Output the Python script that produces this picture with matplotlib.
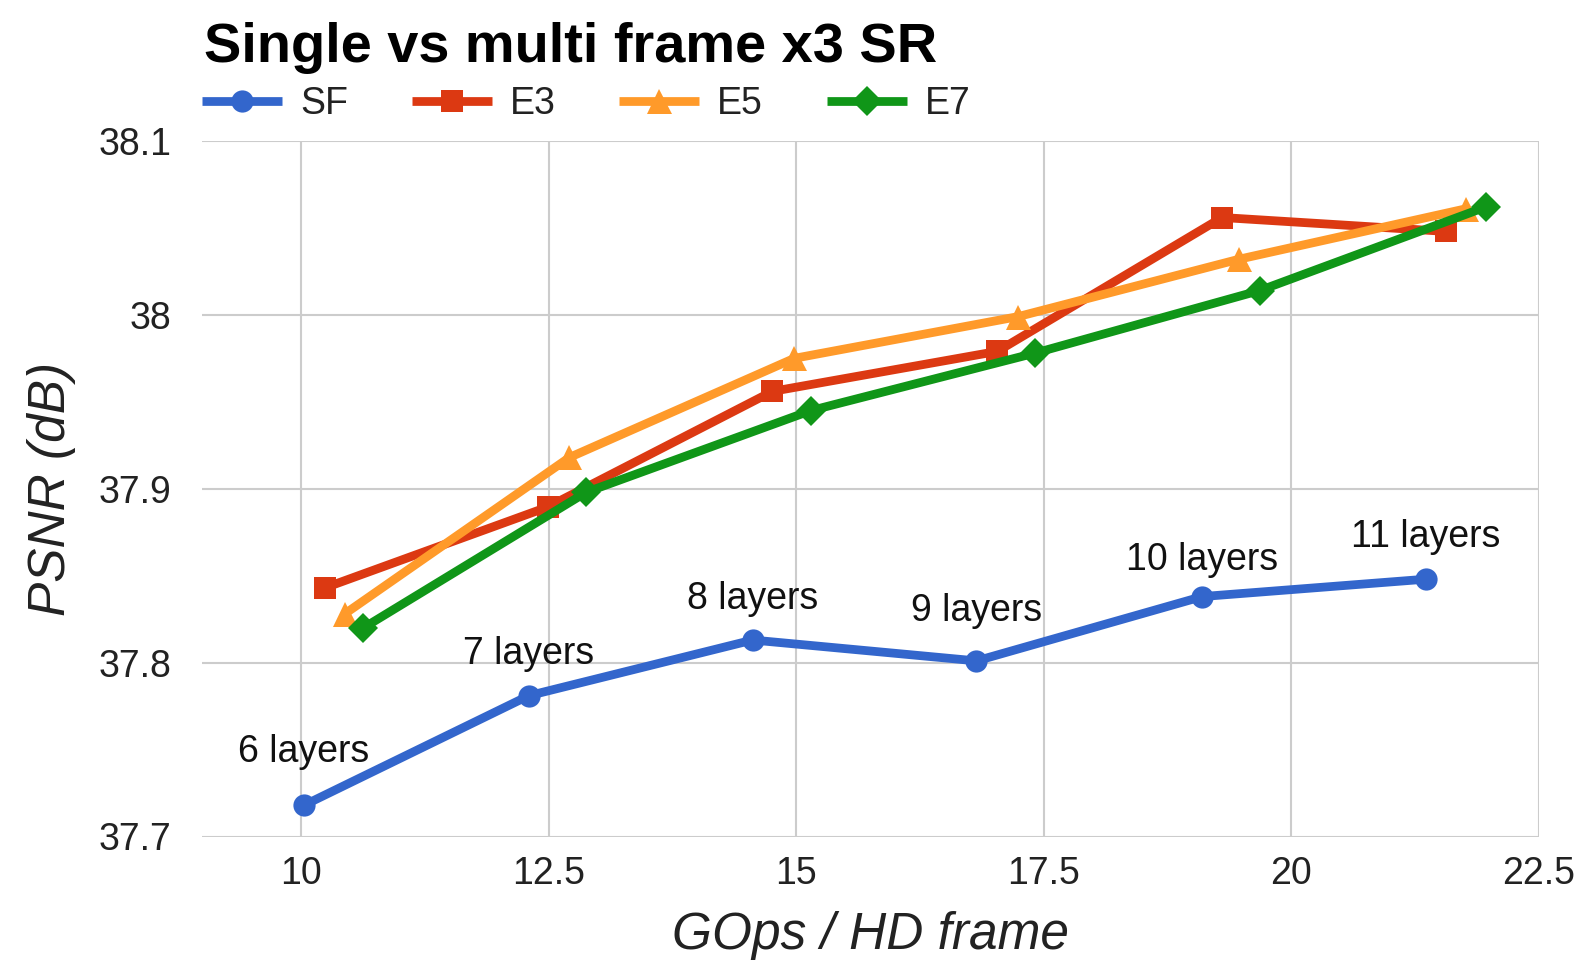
import matplotlib.pyplot as plt
from matplotlib.ticker import FixedLocator

plt.rcParams['font.family'] = ['Liberation Sans', 'DejaVu Sans']

# data
sf_x = [10.03, 12.30, 14.56, 16.82, 19.10, 21.36]
sf_y = [37.718, 37.781, 37.813, 37.801, 37.838, 37.848]
sf_labels = ['6 layers', '7 layers', '8 layers', '9 layers', '10 layers', '11 layers']

e3_x = [10.24, 12.49, 14.76, 17.03, 19.30, 21.56]
e3_y = [37.843, 37.8895, 37.956, 37.979, 38.056, 38.048]

e5_x = [10.44, 12.71, 14.98, 17.24, 19.47, 21.76]
e5_y = [37.828, 37.918, 37.975, 37.999, 38.032, 38.061]

e7_x = [10.63, 12.88, 15.15, 17.41, 19.68, 21.96]
e7_y = [37.820, 37.898, 37.945, 37.978, 38.014, 38.062]

x_ticks = [10, 12.5, 15, 17.5, 20, 22.5]
x_tick_labels = ['10', '12.5', '15', '17.5', '20', '22.5']
y_ticks = [37.7, 37.8, 37.9, 38.0, 38.1]
y_tick_labels = ['37.7', '37.8', '37.9', '38', '38.1']

# how far above its point each layer label sits (points)
label_dy = [31, 23, 22, 29, 19, 23]

W, H = 1588, 968
fig = plt.figure(figsize=(W / 100, H / 100), dpi=100)
fig.patch.set_facecolor('white')
ax = fig.add_axes([202 / W, 1 - 836.5 / H, (1539 - 202) / W, (836.5 - 141) / H])

lw = 6.3
series = [
    (sf_x, sf_y, 'SF', '#3366cc', 'o', 16),
    (e3_x, e3_y, 'E3', '#dc3912', 's', 16),
    (e5_x, e5_y, 'E5', '#ff9a2a', '^', 18),
    (e7_x, e7_y, 'E7', '#109618', 'D', 15),
]
for xs, ys, name, col, mk, ms in series:
    ax.plot(xs, ys, color=col, lw=lw, marker=mk, markersize=ms,
            markeredgewidth=0, label=name, solid_capstyle='butt', zorder=3)

for x, y, lab, dy in zip(sf_x, sf_y, sf_labels, label_dy):
    ax.annotate(lab, (x, y), xytext=(0, dy), textcoords='offset points',
                ha='center', va='baseline', fontsize=27, color='#111111')

ax.set_xlim(9, 22.5)
ax.set_ylim(37.7, 38.1)
ax.xaxis.set_major_locator(FixedLocator(x_ticks))
ax.set_xticklabels(x_tick_labels)
ax.yaxis.set_major_locator(FixedLocator(y_ticks))
ax.set_yticklabels(y_tick_labels)

ax.grid(True, color='#cccccc', lw=1.5, zorder=0)
ax.set_axisbelow(True)
for s in ax.spines.values():
    s.set_visible(False)
ax.tick_params(length=0, labelsize=27, labelcolor='#222222')
ax.tick_params(axis='y', pad=22)
ax.tick_params(axis='x', pad=14)

ax.set_xlabel('GOps / HD frame', fontsize=37, style='italic', color='#222222', labelpad=14)
ax.set_ylabel('PSNR (dB)', fontsize=37, style='italic', color='#222222', labelpad=16)

fig.text(204 / W, 1 - 62 / H, 'Single vs multi frame x3 SR', fontsize=40.3,
         fontweight='bold', color='black', ha='left', va='baseline')

leg = ax.legend(loc='center left', bbox_to_anchor=(0, (836.5 - 104) / 695.5),
                ncol=4, frameon=False, fontsize=27, borderpad=0, borderaxespad=0,
                handlelength=2.13, handletextpad=0.48, columnspacing=1.7)
for t in leg.get_texts():
    t.set_color('#222222')

fig.savefig('out.png', dpi=100, facecolor='white')
